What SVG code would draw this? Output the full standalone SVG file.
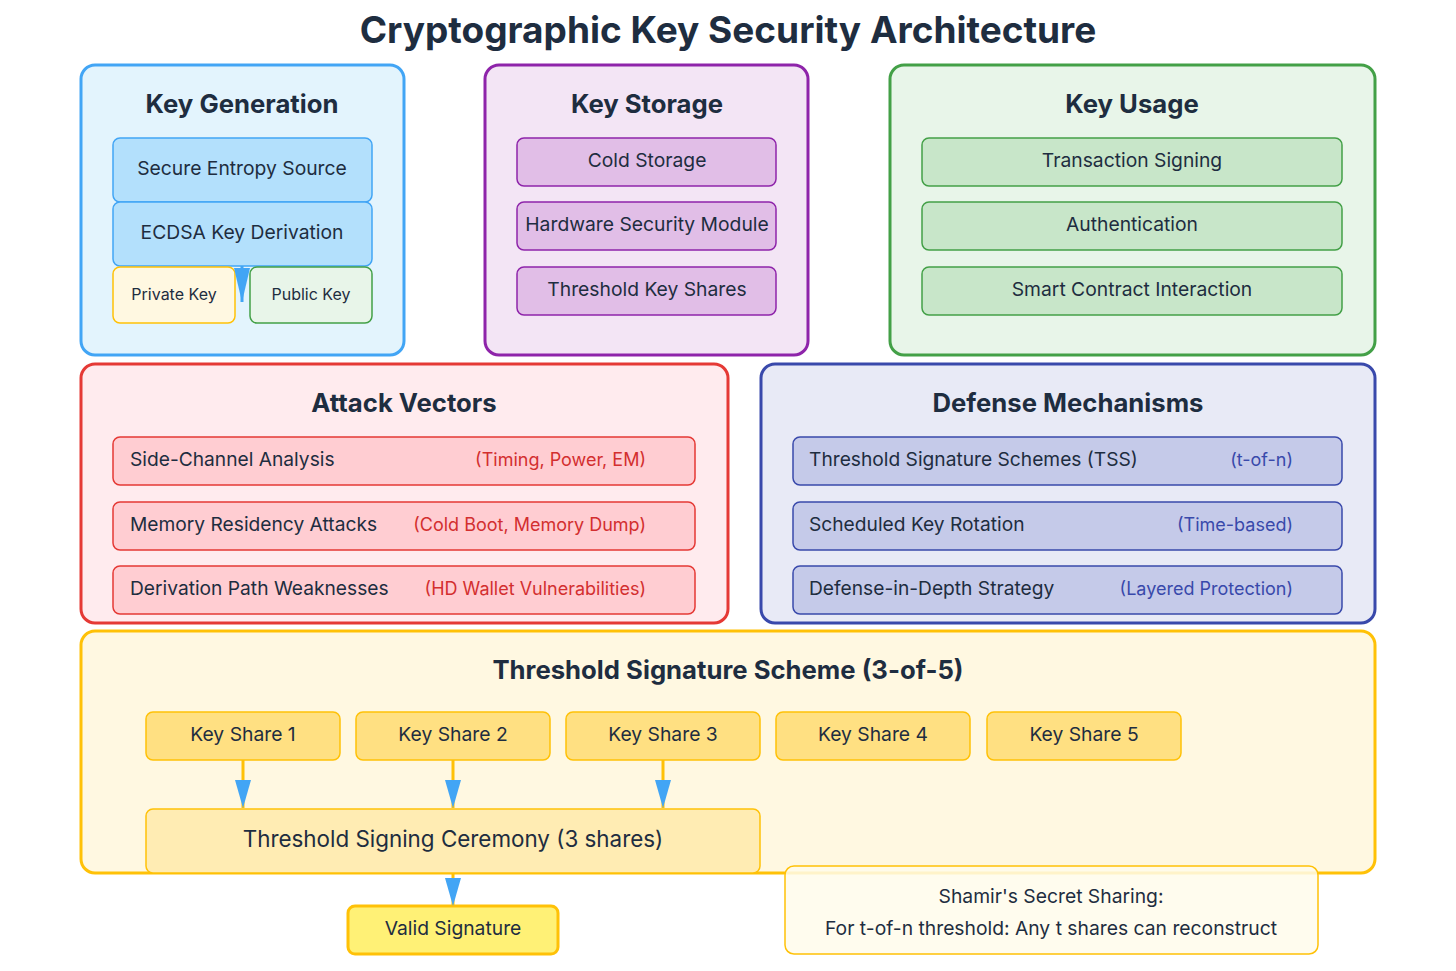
<svg xmlns="http://www.w3.org/2000/svg" width="1456" height="971" viewBox="0 0 1456 971">
<defs>
<style>
text{font-family:Inter,"Noto Sans","Liberation Sans",sans-serif;fill:#1e2d40}
.title{font-size:37px;font-weight:700;text-anchor:middle}
.ptitle{font-size:25.7px;font-weight:700;text-anchor:middle}
.lbl{font-size:19.3px;text-anchor:middle}
.lft{font-size:19.2px}
.small{font-size:16px;text-anchor:middle}
.red{font-size:18px;text-anchor:end;fill:#d32f2f}
.blue{font-size:18px;text-anchor:end;fill:#3949ab}
.panel{stroke-width:3}
.box{stroke-width:1.5}
.conn{stroke:#ffc107;stroke-width:3;fill:none}
</style>
<marker id="arr" markerWidth="28" markerHeight="16" refX="28" refY="8" orient="auto" markerUnits="userSpaceOnUse" viewBox="0 0 28 16">
<path d="M0,0 L28,8 L0,16 Z" fill="#42a5f5"/>
</marker>
<marker id="arr2" markerWidth="34" markerHeight="16" refX="34" refY="8" orient="auto" markerUnits="userSpaceOnUse" viewBox="0 0 34 16">
<path d="M0,0 L34,8 L0,16 Z" fill="#42a5f5"/>
</marker>
</defs>
<rect width="1456" height="971" fill="#ffffff"/>
<text class="title" x="728" y="43">Cryptographic Key Security Architecture</text>

<g id="key-generation">
<rect class="panel" x="81" y="65" width="323" height="290" rx="14" fill="#e3f4fd" stroke="#42a5f5"/>
<text class="ptitle" x="242" y="113">Key Generation</text>
</g>
<g id="secure-entropy">
<rect class="box" x="113" y="138" width="259" height="64" rx="7" fill="#b3e0fc" stroke="#42a5f5"/>
<text class="lbl" x="242" y="175">Secure Entropy Source</text>
</g>
<g id="ecdsa">
<rect class="box" x="113" y="202" width="259" height="64" rx="7" fill="#b3e0fc" stroke="#42a5f5"/>
<text class="lbl" x="242" y="239">ECDSA Key Derivation</text>
</g>
<g id="private-key">
<rect class="box" x="113" y="267" width="122" height="56" rx="7" fill="#fff8e1" stroke="#ffc107"/>
<text class="small" x="174" y="300">Private Key</text>
</g>
<g id="public-key">
<rect class="box" x="250" y="267" width="122" height="56" rx="7" fill="#e8f5e9" stroke="#43a047"/>
<text class="small" x="311" y="300">Public Key</text>
</g>

<g id="key-storage">
<rect class="panel" x="485" y="65" width="323" height="290" rx="14" fill="#f3e5f5" stroke="#8e24aa"/>
<text class="ptitle" x="647" y="113">Key Storage</text>
</g>
<g id="cold-storage">
<rect class="box" x="517" y="138" width="259" height="48" rx="7" fill="#e1bee7" stroke="#8e24aa"/>
<text class="lbl" x="647" y="167">Cold Storage</text>
</g>
<g id="hsm">
<rect class="box" x="517" y="202" width="259" height="48" rx="7" fill="#e1bee7" stroke="#8e24aa"/>
<text class="lbl" x="647" y="231">Hardware Security Module</text>
</g>
<g id="threshold-key-shares">
<rect class="box" x="517" y="267" width="259" height="48" rx="7" fill="#e1bee7" stroke="#8e24aa"/>
<text class="lbl" x="647" y="296">Threshold Key Shares</text>
</g>

<g id="key-usage">
<rect class="panel" x="890" y="65" width="485" height="290" rx="14" fill="#e8f5e9" stroke="#43a047"/>
<text class="ptitle" x="1132" y="113">Key Usage</text>
</g>
<g id="tx-signing">
<rect class="box" x="922" y="138" width="420" height="48" rx="7" fill="#c8e6c9" stroke="#43a047"/>
<text class="lbl" x="1132" y="167">Transaction Signing</text>
</g>
<g id="authentication">
<rect class="box" x="922" y="202" width="420" height="48" rx="7" fill="#c8e6c9" stroke="#43a047"/>
<text class="lbl" x="1132" y="231">Authentication</text>
</g>
<g id="smart-contract">
<rect class="box" x="922" y="267" width="420" height="48" rx="7" fill="#c8e6c9" stroke="#43a047"/>
<text class="lbl" x="1132" y="296">Smart Contract Interaction</text>
</g>

<g id="attack-vectors">
<rect class="panel" x="81" y="364" width="647" height="259" rx="14" fill="#ffebee" stroke="#e53935"/>
<text class="ptitle" x="404" y="412">Attack Vectors</text>
</g>
<g id="side-channel">
<rect class="box" x="113" y="437" width="582" height="48" rx="7" fill="#ffcdd2" stroke="#e53935"/>
<text class="lft" x="130" y="466">Side-Channel Analysis</text>
<text class="red" x="646" y="466">(Timing, Power, EM)</text>
</g>
<g id="memory-residency">
<rect class="box" x="113" y="502" width="582" height="48" rx="7" fill="#ffcdd2" stroke="#e53935"/>
<text class="lft" x="130" y="531">Memory Residency Attacks</text>
<text class="red" x="646" y="531">(Cold Boot, Memory Dump)</text>
</g>
<g id="derivation-path">
<rect class="box" x="113" y="566" width="582" height="48" rx="7" fill="#ffcdd2" stroke="#e53935"/>
<text class="lft" x="130" y="595">Derivation Path Weaknesses</text>
<text class="red" x="646" y="595">(HD Wallet Vulnerabilities)</text>
</g>

<g id="defense-mechanisms">
<rect class="panel" x="761" y="364" width="614" height="259" rx="14" fill="#e8eaf6" stroke="#3949ab"/>
<text class="ptitle" x="1068" y="412">Defense Mechanisms</text>
</g>
<g id="tss-defense">
<rect class="box" x="793" y="437" width="549" height="48" rx="7" fill="#c5cae9" stroke="#3949ab"/>
<text class="lft" x="809" y="466">Threshold Signature Schemes (TSS)</text>
<text class="blue" x="1293" y="466">(t-of-n)</text>
</g>
<g id="key-rotation">
<rect class="box" x="793" y="502" width="549" height="48" rx="7" fill="#c5cae9" stroke="#3949ab"/>
<text class="lft" x="809" y="531">Scheduled Key Rotation</text>
<text class="blue" x="1293" y="531">(Time-based)</text>
</g>
<g id="defense-in-depth">
<rect class="box" x="793" y="566" width="549" height="48" rx="7" fill="#c5cae9" stroke="#3949ab"/>
<text class="lft" x="809" y="595">Defense-in-Depth Strategy</text>
<text class="blue" x="1293" y="595">(Layered Protection)</text>
</g>

<g id="tss-scheme">
<rect class="panel" x="81" y="631" width="1294" height="242" rx="14" fill="#fff8e1" stroke="#ffc107"/>
<text class="ptitle" x="728" y="679">Threshold Signature Scheme (3-of-5)</text>
</g>
<g id="share-1">
<rect class="box" x="146" y="712" width="194" height="48" rx="7" fill="#ffe082" stroke="#ffc107"/>
<text class="lbl" x="243" y="741">Key Share 1</text>
</g>
<g id="share-2">
<rect class="box" x="356" y="712" width="194" height="48" rx="7" fill="#ffe082" stroke="#ffc107"/>
<text class="lbl" x="453" y="741">Key Share 2</text>
</g>
<g id="share-3">
<rect class="box" x="566" y="712" width="194" height="48" rx="7" fill="#ffe082" stroke="#ffc107"/>
<text class="lbl" x="663" y="741">Key Share 3</text>
</g>
<g id="share-4">
<rect class="box" x="776" y="712" width="194" height="48" rx="7" fill="#ffe082" stroke="#ffc107"/>
<text class="lbl" x="873" y="741">Key Share 4</text>
</g>
<g id="share-5">
<rect class="box" x="987" y="712" width="194" height="48" rx="7" fill="#ffe082" stroke="#ffc107"/>
<text class="lbl" x="1084" y="741">Key Share 5</text>
</g>
<g id="ceremony">
<rect class="box" x="146" y="809" width="614" height="64" rx="7" fill="#ffecb3" stroke="#ffc107"/>
<text class="lbl" style="font-size:22.4px" x="453" y="847">Threshold Signing Ceremony (3 shares)</text>
</g>
<g id="valid-signature">
<rect x="348" y="906" width="210" height="48" rx="7" fill="#fff176" stroke="#ffc107" stroke-width="3"/>
<text class="lbl" x="453" y="935">Valid Signature</text>
</g>
<g id="shamir-note">
<rect x="785" y="866" width="533" height="88" rx="9" fill="#fffbeb" fill-opacity="0.85" stroke="#ffc107" stroke-width="1.5"/>
<text class="lbl" x="1051" y="903">Shamir's Secret Sharing:</text>
<text class="lbl" x="1051" y="935">For t-of-n threshold: Any t shares can reconstruct</text>
</g>

<g id="connectors">
<line x1="242" y1="266" x2="242" y2="302" stroke="#42a5f5" stroke-width="3" marker-end="url(#arr2)"/>
<line class="conn" x1="243" y1="760" x2="243" y2="808" marker-end="url(#arr)"/>
<line class="conn" x1="453" y1="760" x2="453" y2="808" marker-end="url(#arr)"/>
<line class="conn" x1="663" y1="760" x2="663" y2="808" marker-end="url(#arr)"/>
<line class="conn" x1="453" y1="873" x2="453" y2="906" marker-end="url(#arr)"/>
</g>
</svg>
